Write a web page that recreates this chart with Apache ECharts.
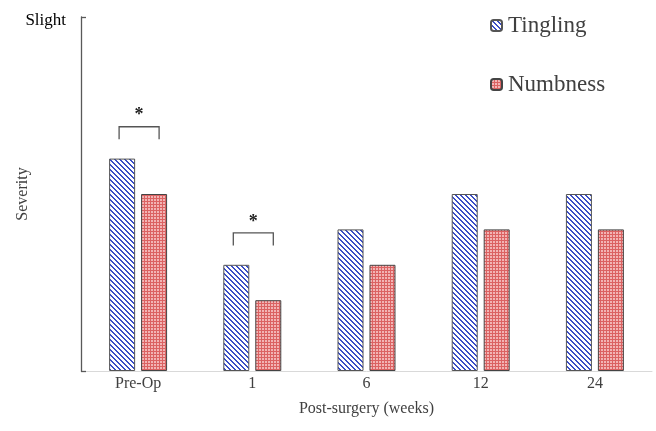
<!DOCTYPE html>
<html>
<head>
<meta charset="utf-8">
<script src="https://cdn.jsdelivr.net/npm/echarts@6/dist/echarts.min.js"></script>
<style>
  html, body { margin: 0; padding: 0; background: #fff; }
  #chart { width: 656px; height: 431px; }
</style>
</head>
<body>
<div id="chart"></div>
<script>
// Symptom severity by follow-up time point
const categories = ['Pre-Op', '1', '6', '12', '24'];
const tingling = [6, 3, 4, 5, 5];
const numbness = [5, 2, 3, 4, 4];
// Time points with a significant Tingling vs Numbness difference
const significant = ['Pre-Op', '1'];
const yMax = 10;
const yTopLabel = 'Slight';

const serif = '"Liberation Serif", "Times New Roman", serif';

// Blue diagonal hatch fill
function hatchPattern() {
  const n = 5;
  const c = document.createElement('canvas');
  c.width = n; c.height = n;
  const ctx = c.getContext('2d');
  ctx.fillStyle = '#ffffff';
  ctx.fillRect(0, 0, n, n);
  ctx.fillStyle = '#3b4ec6';
  for (let y = 0; y < n; y++) {
    for (let x = 0; x < n; x++) {
      const d = ((x - y) % n + n) % n;
      if (d === 0 || d === 1) ctx.fillRect(x, y, 1, 1);
    }
  }
  return { image: c, repeat: 'repeat' };
}

// Red checked fill
function dotPattern() {
  const c = document.createElement('canvas');
  c.width = 3; c.height = 3;
  const ctx = c.getContext('2d');
  ctx.fillStyle = '#db6262';
  ctx.fillRect(0, 0, 3, 3);
  ctx.fillStyle = '#f2b4b4';
  ctx.fillRect(1, 1, 2, 2);
  return { image: c, repeat: 'repeat' };
}

const bracketData = significant.map(function (cat) {
  const i = categories.indexOf(cat);
  return [i, Math.max(tingling[i], numbness[i]) + 0.9];
});

const chart = echarts.init(document.getElementById('chart'), null, { renderer: 'canvas' });

chart.setOption({
  animation: false,
  backgroundColor: '#ffffff',
  textStyle: { fontFamily: serif },
  grid: { left: 81, right: 4, top: 17, bottom: 60, containLabel: false, outerBoundsMode: 'none' },
  legend: {
    data: ['Tingling', 'Numbness'],
    orient: 'vertical',
    left: 490,
    top: 14,
    padding: 0,
    itemWidth: 11,
    itemHeight: 11,
    itemGap: 36,
    textStyle: { fontFamily: serif, fontSize: 23, color: '#404040', padding: [0, 0, 0, 1] },
    selectedMode: false
  },
  xAxis: {
    type: 'category',
    data: categories,
    axisLine: { show: true, lineStyle: { color: '#d9d9d9', width: 1 } },
    axisTick: { show: false },
    axisLabel: { fontFamily: serif, fontSize: 16, color: '#404040', margin: 5 },
    name: 'Post-surgery (weeks)',
    nameLocation: 'middle',
    nameGap: 30,
    nameTextStyle: { fontFamily: serif, fontSize: 16, color: '#404040' }
  },
  yAxis: {
    type: 'value',
    min: 0,
    max: yMax,
    interval: yMax,
    axisLine: { show: true, lineStyle: { color: '#595959', width: 1.3 } },
    axisTick: { show: true, inside: true, length: 5, lineStyle: { color: '#595959', width: 1.3 } },
    axisLabel: {
      fontFamily: serif, fontSize: 17, color: '#000000', margin: 15,
      verticalAlign: 'top', lineHeight: 8,
      formatter: function (v) { return v === yMax ? yTopLabel : ''; }
    },
    splitLine: { show: false },
    name: 'Severity',
    nameLocation: 'middle',
    nameGap: 50,
    nameMoveOverlap: false,
    nameRotate: 90,
    nameTextStyle: { fontFamily: serif, fontSize: 16, color: '#404040' }
  },
  series: [
    {
      name: 'Tingling',
      type: 'bar',
      data: tingling,
      barWidth: 26,
      barGap: '23%',
      itemStyle: { color: hatchPattern(), borderColor: '#555555', borderWidth: 1 }
    },
    {
      name: 'Numbness',
      type: 'bar',
      data: numbness,
      barWidth: 26,
      itemStyle: { color: dotPattern(), borderColor: '#444444', borderWidth: 1 }
    },
    {
      name: 'significance',
      type: 'custom',
      data: bracketData,
      silent: true,
      z: 5,
      renderItem: function (params, api) {
        const p = api.coord([api.value(0), api.value(1)]);
        const x0 = p[0] - 19, x1 = p[0] + 21, y = p[1];
        return {
          type: 'group',
          children: [
            {
              type: 'polyline',
              shape: { points: [[x0, y + 12.5], [x0, y], [x1, y], [x1, y + 12.5]] },
              style: { stroke: '#555555', lineWidth: 1.3, fill: null }
            },
            {
              type: 'text',
              style: {
                text: '*', x: p[0] + 1, y: y - 11,
                align: 'center', verticalAlign: 'middle',
                font: 'bold 18px ' + serif, fill: '#222222'
              }
            }
          ]
        };
      }
    }
  ]
});
</script>
</body>
</html>
